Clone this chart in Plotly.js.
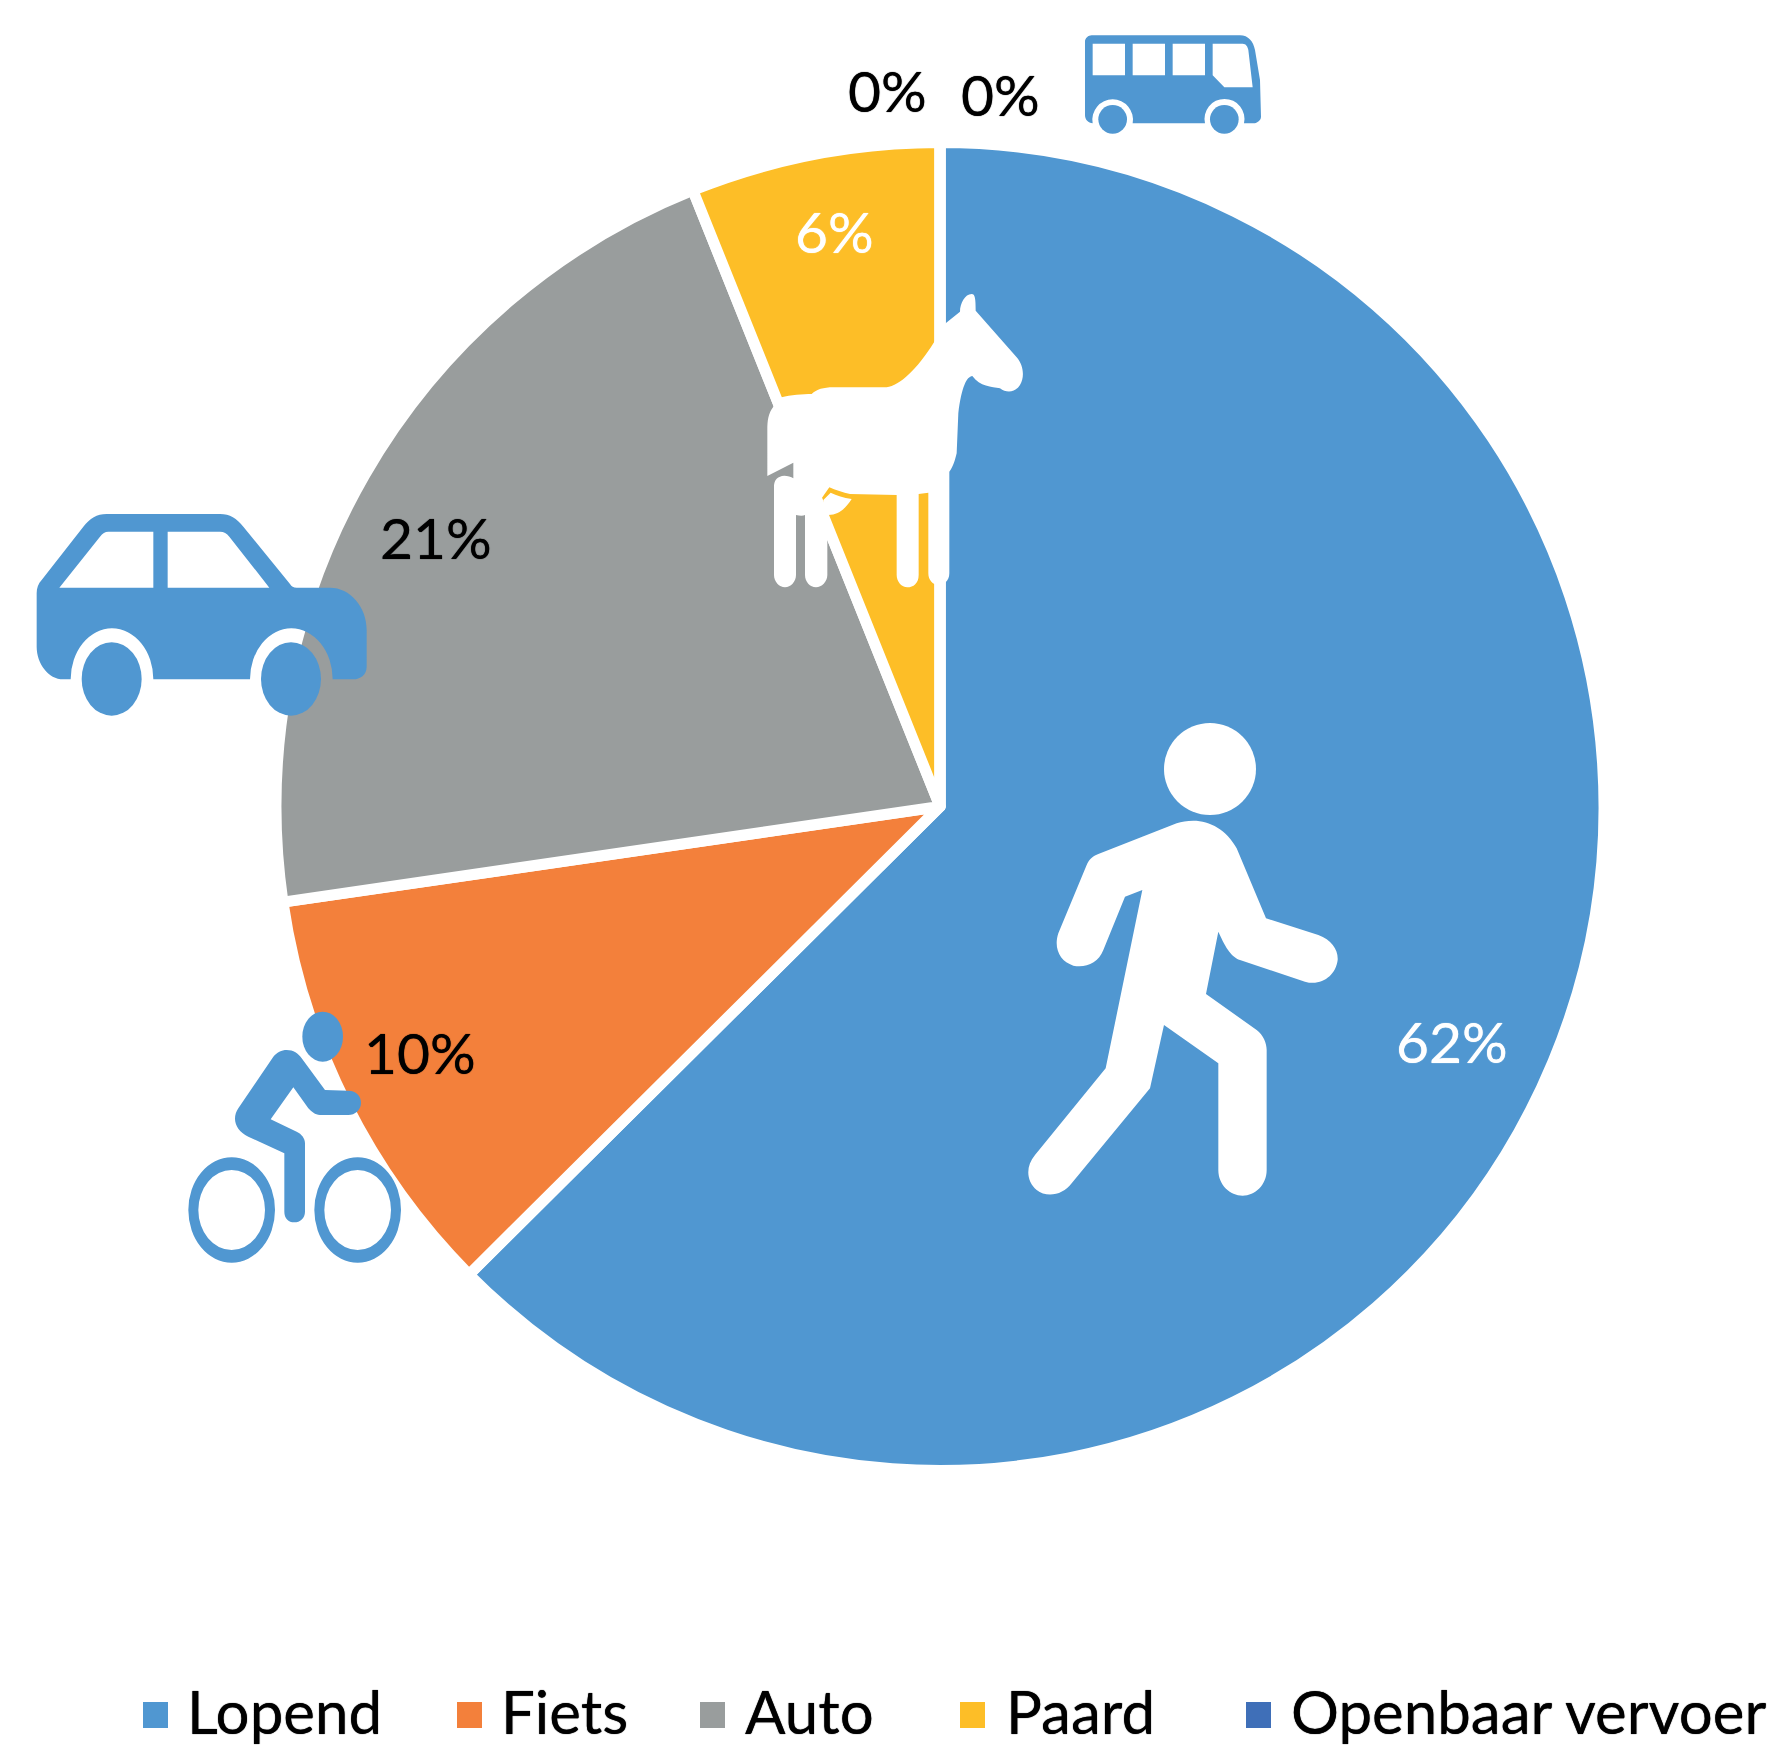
<!DOCTYPE html>
<html><head><meta charset="utf-8">
<script src="https://cdn.plot.ly/plotly-3.0.1.min.js"></script>
<style>html,body{margin:0;padding:0;background:#fff}</style></head>
<body><div id="chart" style="width:1772px;height:1753px"></div>
<script>
const categories = ['Lopend','Fiets','Auto','Paard','Openbaar vervoer','Overig'];
const sliceValues = [62.55,10.15,21.23,6.07,0,0];
const sliceLabels = ['62%','10%','21%','6%','0%','0%'];
const labelColors = ['#ffffff','#000000','#000000','#ffffff','#000000','#000000'];
const labelX = [1452,420,436,834,1000,887];
const labelY = [1041,1052,537,231,94,90];
const sliceColors = ['#5097d1','#f3803b','#999d9d','#fdbe27','#3f6fb8','#5097d1'];
const legendItems = ['Lopend','Fiets','Auto','Paard','Openbaar vervoer'];
const legendSwatchX = [143,457,700,960,1246];
const legendTextX = [185,499,743,1004,1289];

const W=1772,H=1753,CX=940,CY=806.5,R=664;
const FONT='Lato, Carlito, Calibri, sans-serif';
const px=x=>x/W, py=y=>1-y/H;

const blue='#5097d1';
const svg=`<svg xmlns="http://www.w3.org/2000/svg" width="${W}" height="${H}" viewBox="0 0 ${W} ${H}">
<g transform="translate(1010,700) scale(0.33333)" fill="#fff">
<circle cx="600" cy="207" r="138"/>
<path d="M550 362C600 362 650 390 680 445L768 655L925 705C965 720 985 750 983 780C978 825 935 860 885 845L690 780C665 770 650 750 625 695L588 882L740 990C760 1005 770 1030 770 1050L770 1410C770 1455 735 1487 698 1487C660 1487 625 1455 625 1410L625 1090L462 975L420 1165L185 1450C160 1485 110 1495 80 1470C50 1445 45 1400 75 1365L287 1105L397 570L345 590L280 750C265 790 225 805 190 797C150 785 130 745 145 700L230 495C238 478 245 470 265 462L500 370C515 365 530 362 550 362Z"/>
</g>
<g transform="translate(740,270) scale(0.33333)" fill="#fff">
<path d="M660 125C660 100 675 72 695 72C705 72 707 85 707 122L830 262C850 285 855 320 840 345C825 368 800 370 780 355C755 350 720 350 697 318C680 320 665 350 655 430L650 550C645 570 640 590 628 605L628 910C628 935 610 945 595 945C578 945 565 930 565 910L565 668L536 672L536 915C536 940 520 952 502 952C485 952 470 935 470 915L470 675L330 672C310 668 285 660 268 652L245 685L262 735L262 915C262 935 245 952 228 952C210 952 195 935 195 915L195 735C190 738 180 738 168 735L168 915C168 935 152 952 135 952C118 952 102 935 102 915L102 650C102 640 105 625 120 620C130 615 150 618 160 625L160 578L82 618L82 480C82 450 85 430 100 410L125 382C150 375 190 372 215 372C230 358 250 352 280 352L440 352C480 345 530 300 583 215L617 160L660 125Z"/>
<path d="M250 690L272 668C290 677 310 683 335 687C320 710 300 735 265 735L250 735Z"/>
</g>
<g transform="translate(820,0) scale(0.33333)">
<path fill="${blue}" d="M815 106L1260 106C1285 106 1300 125 1305 150L1320 240L1323 350C1323 362 1310 370 1300 370L1272 370A60 60 0 1 0 1155 370L938 370A61 61 0 1 0 818 370C805 368 795 360 795 345L795 125C795 115 805 106 815 106Z"/>
<path fill="#fff" d="M818 131H915V226H818ZM938 131H1035V226H938ZM1058 131H1155V226H1058ZM1178 131L1268 131C1278 131 1283 140 1285 150L1298 262L1213 262L1178 226Z"/>
<circle cx="878" cy="358" r="43" fill="${blue}"/><circle cx="1213" cy="358" r="43" fill="${blue}"/>
</g>
<g transform="translate(20,490) scale(0.33333)">
<path fill="${blue}" d="M50 310C50 295 55 280 65 270L190 110C210 85 230 72 260 72L600 72C630 72 650 85 670 110L810 282C815 290 820 293 830 293L930 293C990 293 1040 350 1040 420L1040 530C1040 555 1020 568 1000 568L938 568A124 153 0 0 0 690 568L400 568A124 153 0 0 0 152 568L130 568C85 568 50 520 50 470Z"/>
<path fill="#fff" d="M118 293L240 140C248 130 255 125 265 125L400 125L400 293ZM443 125L600 125C612 125 620 130 628 140L748 293L443 293Z"/>
<ellipse cx="275" cy="567" rx="90" ry="110" fill="${blue}"/><ellipse cx="813" cy="567" rx="90" ry="110" fill="${blue}"/>
</g>
<g transform="translate(170,990) scale(0.33333)">
<ellipse cx="458" cy="140" rx="61" ry="75" fill="${blue}"/>
<path fill="${blue}" d="M350 180C370 180 385 190 395 205L465 300L535 302C560 302 573 320 573 338C573 360 555 375 535 375L450 375C435 375 425 365 415 355L370 292L302 388L380 425C395 432 405 445 405 460L405 665C405 685 390 697 373 697C355 697 343 685 343 665L343 490L235 440C195 420 185 385 205 355L310 200C320 188 335 180 350 180Z"/>
<path fill="${blue}" fill-rule="evenodd" d="M55 660A130 158 0 1 1 315 660A130 158 0 1 1 55 660ZM85 660A100 120 0 1 0 285 660A100 120 0 1 0 85 660Z"/>
<path fill="${blue}" fill-rule="evenodd" d="M433 660A130 158 0 1 1 693 660A130 158 0 1 1 433 660ZM463 660A100 120 0 1 0 663 660A100 120 0 1 0 463 660Z"/>
</g>
</svg>`;

const annotations = sliceLabels.map((t,i)=>({
  text:t, xref:'paper', yref:'paper', x:px(labelX[i]), y:py(labelY[i]),
  xanchor:'center', yanchor:'middle', showarrow:false,
  font:{family:FONT,size:57,color:labelColors[i],shadow:'0 0 1px '+labelColors[i]}
})).concat(legendItems.map((t,i)=>({
  text:t, xref:'paper', yref:'paper', x:px(legendTextX[i]), y:py(1711),
  xanchor:'left', yanchor:'middle', showarrow:false,
  font:{family:FONT,size:60,color:'#000000',shadow:'0 0 1px #000000'}
})));

const shapes = legendItems.map((t,i)=>({
  type:'rect', xref:'paper', yref:'paper', layer:'above',
  x0:px(legendSwatchX[i]), x1:px(legendSwatchX[i]+25),
  y0:py(1728), y1:py(1702),
  fillcolor:sliceColors[i], line:{width:0}
}));

Plotly.newPlot('chart',[{
  type:'pie', labels:categories, values:sliceValues, sort:false,
  direction:'clockwise', rotation:0, textinfo:'none', hoverinfo:'label+percent',
  marker:{colors:sliceColors,line:{color:'#ffffff',width:11}},
  domain:{x:[px(CX-R),px(CX+R)],y:[py(CY+R),py(CY-R)]},
  automargin:false
}],{
  width:W,height:H,margin:{l:0,r:0,t:0,b:0},
  paper_bgcolor:'#ffffff',showlegend:false,
  annotations,shapes,
  images:[{source:'data:image/svg+xml;charset=utf-8,'+encodeURIComponent(svg),
    xref:'paper',yref:'paper',x:0,y:1,sizex:1,sizey:1,sizing:'stretch',
    xanchor:'left',yanchor:'top',layer:'above'}]
},{displayModeBar:false,staticPlot:true});
</script></body></html>
